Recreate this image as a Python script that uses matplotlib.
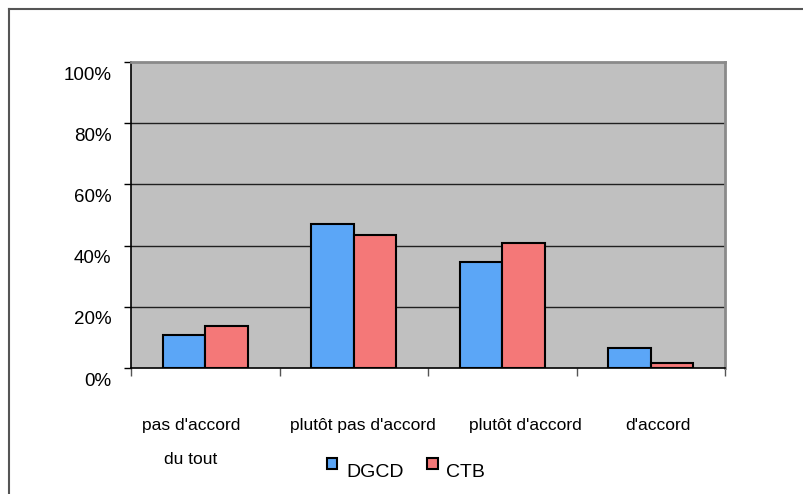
import numpy as np
import matplotlib
matplotlib.use('Agg')
import matplotlib.pyplot as plt
import matplotlib.transforms as mtransforms
from matplotlib.lines import Line2D
from matplotlib.patches import Patch

categories = ["pas d'accord\n\ndu tout", "plutôt pas d'accord", "plutôt d'accord", "d'accord"]
label_shift = [-0.096, 0.059, 0.153, 0.046]
series_names = ['DGCD', 'CTB']
dgcd = [10.8, 47.1, 34.7, 6.6]
ctb = [13.8, 43.4, 41.0, 1.6]
yticks = [0, 20, 40, 60, 80, 100]

plt.rcParams['font.family'] = ['Liberation Sans', 'DejaVu Sans']

fig = plt.figure(figsize=(8.04, 4.94), dpi=100)
ax = fig.add_axes([131 / 804, 1 - 368 / 494, 594 / 804, 306 / 494])
ax.set_facecolor('#C0C0C0')

x = np.arange(len(categories))
w = 1 / 3.5
ax.bar(x - w / 2, dgcd, w, color='#5BA6F7', edgecolor='black', linewidth=1.5, zorder=3)
ax.bar(x + w / 2, ctb, w, color='#F47878', edgecolor='black', linewidth=1.5, zorder=3)

ax.set_xlim(-0.5, len(categories) - 0.5)
ax.set_ylim(0, 100)
ax.set_yticks(yticks)
ax.set_yticklabels(['%d%%' % v for v in yticks], fontsize=13.5)
ax.tick_params(axis='y', length=5, width=1, pad=9, direction='out')
for v in yticks[1:-1]:
    ax.axhline(v, color='#202020', linewidth=1, zorder=1)

# y labels sit a little below their ticks
off = mtransforms.ScaledTranslation(0, -11 / 100, fig.dpi_scale_trans)
for lab in ax.get_yticklabels():
    lab.set_transform(lab.get_transform() + off)

ax.set_xticks(np.arange(-0.5, len(categories), 1.0))
ax.set_xticklabels([])
ax.tick_params(axis='x', length=6, width=1, color='#555555', direction='out')

for s in ['left', 'bottom']:
    ax.spines[s].set_color('black')
    ax.spines[s].set_linewidth(1.2)
for s in ['top', 'right']:
    ax.spines[s].set_color('#8A8A8A')
    ax.spines[s].set_linewidth(2)

trans = mtransforms.blended_transform_factory(ax.transData, fig.transFigure)
for i, cat in enumerate(categories):
    ax.text(i + label_shift[i], 1 - 418 / 494, cat, transform=trans, ha='center', va='top',
            fontsize=12.5, linespacing=1.15)

handles = [Patch(facecolor='#5BA6F7', edgecolor='black', linewidth=1.5),
           Patch(facecolor='#F47878', edgecolor='black', linewidth=1.5)]
leg = fig.legend(handles, series_names, loc='center', bbox_to_anchor=(0.505, 1 - 466 / 494), ncol=2,
                 frameon=False, fontsize=14, handlelength=0.55, handleheight=0.55, handletextpad=0.45,
                 columnspacing=1.2)
# legend text sits lower than the swatches
text_off = mtransforms.ScaledTranslation(0, -6 / 100, fig.dpi_scale_trans)
for t in leg.get_texts():
    t.set_transform(t.get_transform() + text_off)

# outer frame
fig.add_artist(Line2D([8.5 / 804, 1], [1 - 9.5 / 494, 1 - 9.5 / 494], transform=fig.transFigure,
                      color='#555555', linewidth=1.5))
fig.add_artist(Line2D([8.5 / 804, 8.5 / 804], [0, 1 - 9.5 / 494], transform=fig.transFigure,
                      color='#555555', linewidth=1.5))

fig.savefig('out.png', dpi=100, facecolor='white')
